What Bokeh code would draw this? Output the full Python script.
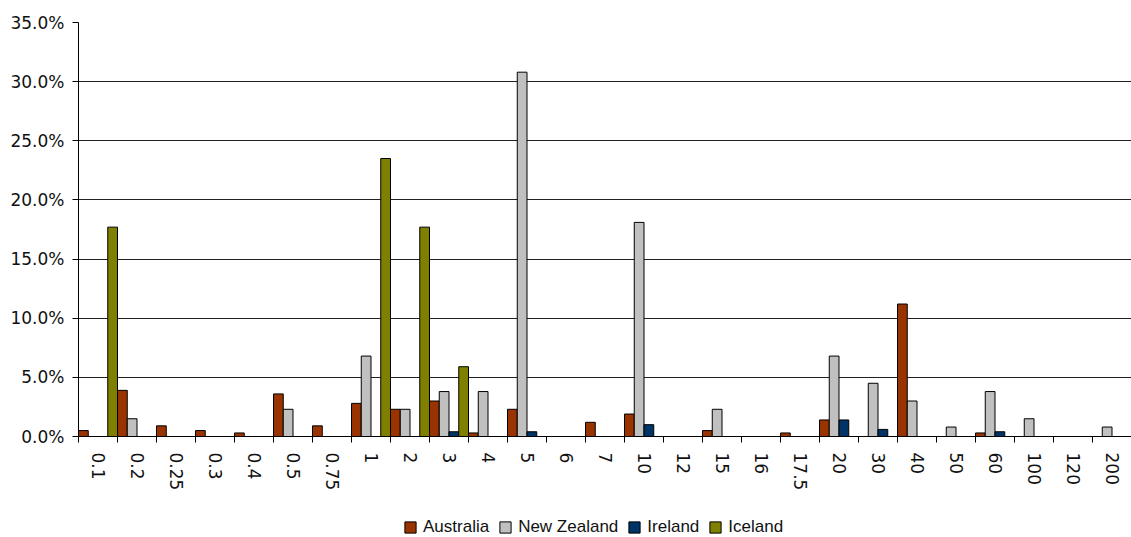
import math
import numpy as np
from bokeh.plotting import figure
from bokeh.layouts import column
from bokeh.models import (Range1d, FixedTicker, NumeralTickFormatter, Legend,
                          LegendItem, ColumnDataSource)
from bokeh.embed import file_html
from bokeh.resources import INLINE

# Categories along the x axis
categories = ["0.1", "0.2", "0.25", "0.3", "0.4", "0.5", "0.75", "1", "2", "3",
              "4", "5", "6", "7", "10", "12", "15", "16", "17.5", "20", "30",
              "40", "50", "60", "100", "120", "200"]

# Share of each category (percent)
australia = [0.5, 3.9, 0.9, 0.5, 0.3, 3.6, 0.9, 2.8, 2.3, 3.0, 0.3, 2.3, 0, 1.2,
             1.9, 0, 0.5, 0, 0.3, 1.4, 0, 11.2, 0, 0.3, 0, 0, 0]
new_zealand = [0, 1.5, 0, 0, 0, 2.3, 0, 6.8, 2.3, 3.8, 3.8, 30.8, 0, 0,
               18.1, 0, 2.3, 0, 0, 6.8, 4.5, 3.0, 0.8, 3.8, 1.5, 0, 0.8]
ireland = [0, 0, 0, 0, 0, 0, 0, 0, 0, 0.4, 0, 0.4, 0, 0,
           1.0, 0, 0, 0, 0, 1.4, 0.6, 0, 0, 0.4, 0, 0, 0]
iceland = [17.7, 0, 0, 0, 0, 0, 0, 23.5, 17.7, 5.9, 0, 0, 0, 0,
           0, 0, 0, 0, 0, 0, 0, 0, 0, 0, 0, 0, 0]

y_ticks = [0, 5, 10, 15, 20, 25, 30, 35]

series = [
    ("Australia", australia, "#993300"),
    ("New Zealand", new_zealand, "#C0C0C0"),
    ("Ireland", ireland, "#003366"),
    ("Iceland", iceland, "#808000"),
]

AXIS_FONT = "DejaVu Sans"
LEGEND_FONT = "Liberation Sans"
TEXT_COLOR = "#111111"
n = len(categories)

p = figure(width=1131, height=507, output_backend="svg", toolbar_location=None,
           x_range=Range1d(0, n), y_range=Range1d(0, 0.35),
           min_border_left=78, min_border_right=0, min_border_top=22,
           min_border_bottom=71)
p.outline_line_color = None
p.background_fill_color = "white"
p.border_fill_color = "white"

# Y axis
p.yaxis.ticker = FixedTicker(ticks=[t / 100.0 for t in y_ticks])
p.yaxis.formatter = NumeralTickFormatter(format="0.0%")
p.yaxis.axis_line_color = "black"
p.yaxis.major_tick_line_color = "black"
p.yaxis.major_tick_out = 6
p.yaxis.major_tick_in = 0
p.yaxis.minor_tick_line_color = None
p.yaxis.major_label_standoff = 8
p.yaxis.major_label_text_font = AXIS_FONT
p.yaxis.major_label_text_font_size = "17px"
p.yaxis.major_label_text_color = TEXT_COLOR

# X axis: labels at category centres, tick marks at category boundaries
centres = [i + 0.5 for i in range(n)]
p.xaxis.ticker = FixedTicker(ticks=centres, minor_ticks=list(range(n + 1)))
p.xaxis.major_label_overrides = {c: lab for c, lab in zip(centres, categories)}
p.xaxis.major_label_orientation = -math.pi / 2
p.xaxis.axis_line_color = "black"
p.xaxis.major_tick_line_color = None
p.xaxis.major_tick_out = 6
p.xaxis.major_tick_in = 0
p.xaxis.minor_tick_line_color = "black"
p.xaxis.minor_tick_out = 6
p.xaxis.minor_tick_in = 0
p.xaxis.major_label_standoff = 10
p.xaxis.major_label_text_font = AXIS_FONT
p.xaxis.major_label_text_font_size = "17px"
p.xaxis.major_label_text_color = TEXT_COLOR

p.xgrid.grid_line_color = None
p.ygrid.grid_line_color = "#222222"
p.ygrid.grid_line_width = 1

# Legend strip underneath the chart (its frame lines up with the chart frame)
leg = figure(width=1131, height=30, output_backend="svg", toolbar_location=None,
             x_range=Range1d(0, 1), y_range=Range1d(0, 1),
             x_axis_location=None, y_axis_location=None,
             min_border=0, min_border_left=0, min_border_right=0,
             min_border_top=0, min_border_bottom=0)
leg.outline_line_color = None
leg.grid.visible = False

# Four bars per category, filling the whole category slot
bar_w = 1.0 / len(series)
items = []
for k, (name, vals, color) in enumerate(series):
    idx = np.arange(n)
    vals = np.asarray(vals, dtype=float)
    keep = vals > 0
    src = ColumnDataSource(dict(x=idx[keep] + (k + 0.5) * bar_w,
                                top=vals[keep] / 100.0))
    p.vbar(x="x", top="top", width=bar_w, bottom=0, source=src,
           fill_color=color, line_color="black", line_width=1)
    # off-screen square swatch that only feeds the legend key
    key = leg.quad(left=[-5], right=[-4], bottom=[-5], top=[-4],
                   fill_color=color, line_color="black", line_width=1)
    items.append(LegendItem(label=name, renderers=[key]))

legend = Legend(items=items, orientation="horizontal", location=(325, 0),
                glyph_width=14, glyph_height=14, label_standoff=6, spacing=9,
                padding=0, margin=0, border_line_color=None,
                background_fill_alpha=0, label_text_font=LEGEND_FONT,
                label_text_font_size="17px", label_text_color=TEXT_COLOR,
                label_height=17)
leg.add_layout(legend, "center")

layout = column(p, leg, spacing=0)
open("out.html", "w").write(file_html(layout, INLINE))
